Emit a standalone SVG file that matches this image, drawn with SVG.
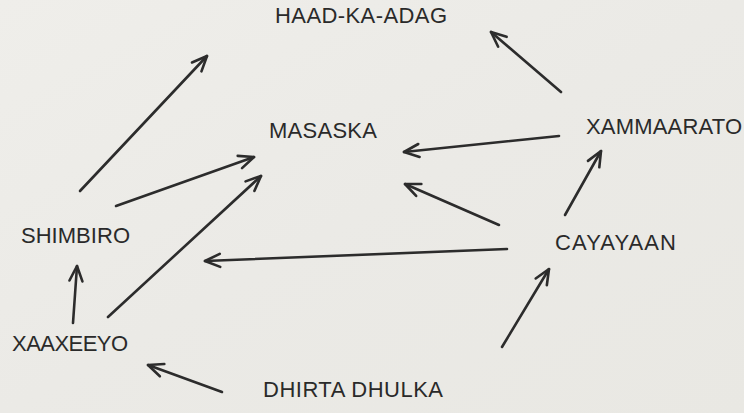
<svg xmlns="http://www.w3.org/2000/svg" width="744" height="413" viewBox="0 0 744 413">
<style>
.lbl{font-family:"Liberation Sans",Arial,sans-serif;font-size:22px;fill:#2a2a2a}
.c line{stroke:#2c2c2c;stroke-width:2.6;stroke-linecap:round;fill:none}
</style>
<defs>
<marker id="ah" markerUnits="userSpaceOnUse" viewBox="-18 -10 22 20" markerWidth="22" markerHeight="20" refX="0" refY="0" orient="auto">
<path d="M-15 -6.5 L0 0 L-15 6.5" fill="none" stroke="#2c2c2c" stroke-width="2.6" stroke-linecap="round" stroke-linejoin="round"/>
</marker>
<linearGradient id="bg" x1="0" y1="0" x2="1" y2="1">
<stop offset="0" stop-color="#efeeea"/>
<stop offset="0.5" stop-color="#ebeae6"/>
<stop offset="1" stop-color="#e9e8e3"/>
</linearGradient>
</defs>
<rect width="744" height="413" fill="url(#bg)"/>
<g id="haad"><text class="lbl" x="275" y="23" textLength="172" lengthAdjust="spacing">HAAD-KA-ADAG</text></g>
<g id="masaska"><text class="lbl" x="269" y="138" textLength="108" lengthAdjust="spacing">MASASKA</text></g>
<g id="xammaarato"><text class="lbl" x="586" y="134" textLength="156" lengthAdjust="spacing">XAMMAARATO</text></g>
<g id="shimbiro"><text class="lbl" x="21" y="243" textLength="109" lengthAdjust="spacing">SHIMBIRO</text></g>
<g id="cayayaan"><text class="lbl" x="555" y="250" textLength="121" lengthAdjust="spacing">CAYAYAAN</text></g>
<g id="xaaxeeyo"><text class="lbl" x="12" y="351" textLength="116" lengthAdjust="spacing">XAAXEEYO</text></g>
<g id="dhirta"><text class="lbl" x="263" y="397" textLength="180" lengthAdjust="spacing">DHIRTA DHULKA</text></g>
<g id="connectors" class="c">
<line x1="80" y1="191" x2="207" y2="56" marker-end="url(#ah)"/>
<line x1="116" y1="206" x2="254" y2="157" marker-end="url(#ah)"/>
<line x1="108" y1="317" x2="261" y2="176" marker-end="url(#ah)"/>
<line x1="73" y1="323" x2="77" y2="266" marker-end="url(#ah)"/>
<line x1="222" y1="392" x2="148" y2="365" marker-end="url(#ah)"/>
<line x1="507" y1="249" x2="205" y2="261" marker-end="url(#ah)"/>
<line x1="499" y1="225" x2="405" y2="184" marker-end="url(#ah)"/>
<line x1="559" y1="136" x2="404" y2="152" marker-end="url(#ah)"/>
<line x1="561" y1="92" x2="491" y2="32" marker-end="url(#ah)"/>
<line x1="565" y1="215" x2="601" y2="151" marker-end="url(#ah)"/>
<line x1="502" y1="347" x2="549" y2="269" marker-end="url(#ah)"/>
</g>
</svg>
